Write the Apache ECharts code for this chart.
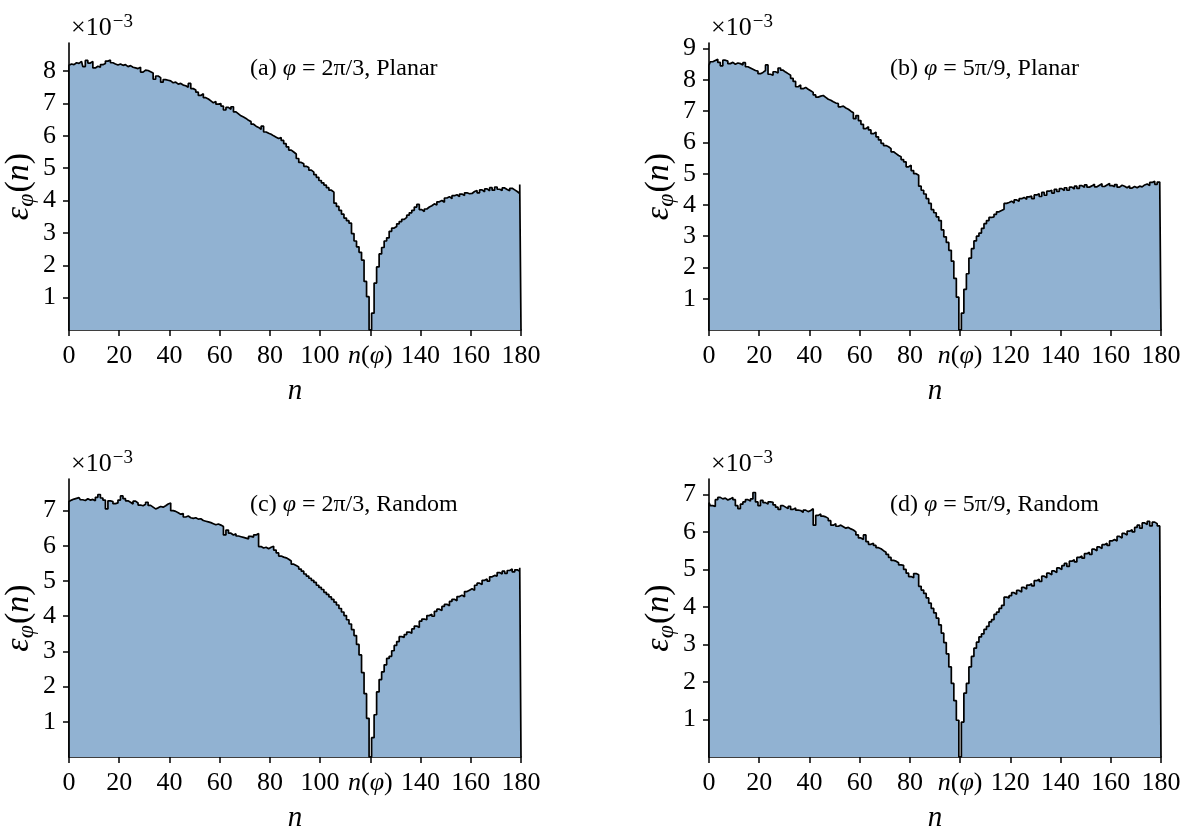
<!DOCTYPE html>
<html>
<head>
<meta charset="utf-8">
<script src="https://cdn.jsdelivr.net/npm/echarts@6/dist/echarts.min.js"></script>
<style>
  html, body { margin: 0; padding: 0; background: #fff; }
  #chart { width: 1185px; height: 834px; }
</style>
</head>
<body>
<div id="chart"></div>
<script>
// Bin-resolved error density eps_phi(n) in units of 1e-3, one value per n = 0..180
const epsPlanar2pi3 = [
  8.18, 8.22, 8.20, 8.26, 8.24, 8.30, 8.14, 8.33, 8.25, 8.30,
  8.10, 8.15, 8.12, 8.20, 8.24, 8.31, 8.34, 8.26, 8.22, 8.19,
  8.22, 8.18, 8.20, 8.14, 8.17, 8.12, 8.10, 8.08, 8.12, 7.97,
  8.03, 8.02, 7.98, 7.94, 7.75, 7.85, 7.80, 7.66, 7.74, 7.72,
  7.70, 7.64, 7.66, 7.60, 7.62, 7.57, 7.55, 7.50, 7.62, 7.46,
  7.42, 7.35, 7.25, 7.30, 7.18, 7.14, 7.08, 7.02, 7.06, 6.98,
  7.00, 6.92, 6.80, 6.88, 6.82, 6.90, 6.74, 6.68, 6.62, 6.58,
  6.54, 6.48, 6.44, 6.36, 6.30, 6.26, 6.20, 6.30, 6.12, 6.08,
  6.05, 6.00, 5.96, 5.92, 5.95, 5.86, 5.76, 5.66, 5.56, 5.50,
  5.44, 5.30, 5.18, 5.14, 5.06, 5.02, 4.94, 4.88, 4.80, 4.72,
  4.62, 4.55, 4.48, 4.40, 4.32, 4.26, 3.92, 3.82, 3.70, 3.58,
  3.46, 3.38, 3.30, 2.98, 2.75, 2.57, 2.40, 2.16, 1.50, 1.03,
  0.00, 0.52, 1.45, 1.95, 2.35, 2.55, 2.75, 2.85, 3.05, 3.15,
  3.20, 3.28, 3.35, 3.42, 3.48, 3.55, 3.62, 3.70, 3.80, 3.88,
  3.72, 3.66, 3.74, 3.80, 3.84, 3.90, 3.86, 3.96, 4.00, 3.95,
  4.08, 4.12, 4.06, 4.15, 4.18, 4.12, 4.20, 4.16, 4.24, 4.21,
  4.22, 4.28, 4.31, 4.24, 4.33, 4.27, 4.36, 4.30, 4.40, 4.32,
  4.42, 4.35, 4.31, 4.39, 4.34, 4.30, 4.38, 4.33, 4.28, 4.22,
  4.50
];
const epsPlanar5pi9 = [
  8.47, 8.58, 8.62, 8.66, 8.56, 8.45, 8.63, 8.60, 8.52, 8.56,
  8.50, 8.54, 8.52, 8.48, 8.55, 8.42, 8.38, 8.34, 8.30, 8.28,
  8.20, 8.24, 8.30, 8.48, 8.18, 8.15, 8.26, 8.22, 8.38, 8.31,
  8.25, 8.20, 8.15, 8.05, 7.95, 7.78, 7.84, 7.72, 7.76, 7.70,
  7.65, 7.60, 7.52, 7.45, 7.48, 7.50, 7.44, 7.38, 7.35, 7.30,
  7.26, 7.24, 7.14, 7.16, 7.10, 7.06, 7.00, 6.95, 6.76, 6.86,
  6.70, 6.58, 6.44, 6.50, 6.40, 6.28, 6.33, 6.18, 6.08, 5.97,
  5.90, 5.86, 5.80, 5.70, 5.64, 5.58, 5.54, 5.45, 5.38, 5.22,
  5.27, 5.10, 5.00, 4.95, 4.60, 4.47, 4.35, 4.20, 4.05, 3.85,
  3.75, 3.62, 3.50, 3.20, 2.98, 2.80, 2.55, 2.20, 1.65, 1.05,
  0.00, 0.54, 1.30, 1.80, 2.30, 2.60, 2.85, 3.00, 3.10, 3.25,
  3.40, 3.50, 3.60, 3.62, 3.70, 3.78, 3.82, 3.86, 4.05, 4.08,
  4.12, 4.06, 4.16, 4.12, 4.20, 4.24, 4.18, 4.26, 4.28, 4.20,
  4.32, 4.36, 4.27, 4.40, 4.31, 4.44, 4.47, 4.38, 4.50, 4.43,
  4.52, 4.46, 4.55, 4.47, 4.57, 4.51, 4.60, 4.53, 4.62, 4.56,
  4.64, 4.57, 4.61, 4.66, 4.58, 4.63, 4.68, 4.59, 4.64, 4.69,
  4.62, 4.58, 4.65, 4.57, 4.63, 4.60, 4.55, 4.61, 4.54, 4.59,
  4.55, 4.60, 4.58, 4.64, 4.67, 4.62, 4.72, 4.76, 4.66, 4.73,
  4.70
];
const epsRandom2pi3 = [
  7.26, 7.30, 7.33, 7.35, 7.37, 7.31, 7.29, 7.34, 7.30, 7.32,
  7.28, 7.38, 7.46, 7.36, 7.30, 7.05, 7.28, 7.26, 7.20, 7.22,
  7.30, 7.42, 7.34, 7.28, 7.24, 7.19, 7.27, 7.22, 7.16, 7.14,
  7.18, 7.24, 7.15, 7.10, 7.05, 7.08, 7.12, 7.10, 7.14, 7.19,
  7.22, 7.00, 6.98, 6.94, 6.90, 6.92, 6.82, 6.85, 6.80, 6.78,
  6.80, 6.76, 6.77, 6.72, 6.70, 6.68, 6.66, 6.63, 6.60, 6.62,
  6.59, 6.55, 6.31, 6.45, 6.36, 6.31, 6.34, 6.28, 6.26, 6.24,
  6.22, 6.20, 6.27, 6.25, 6.31, 6.35, 5.98, 5.94, 5.96, 5.92,
  5.96, 5.99, 5.88, 5.80, 5.71, 5.68, 5.66, 5.62, 5.57, 5.48,
  5.44, 5.40, 5.34, 5.28, 5.20, 5.14, 5.08, 5.02, 4.96, 4.88,
  4.82, 4.76, 4.68, 4.62, 4.55, 4.48, 4.40, 4.32, 4.22, 4.12,
  4.02, 3.90, 3.78, 3.62, 3.45, 3.20, 2.90, 2.40, 1.80, 1.10,
  0.00, 0.55, 1.20, 1.85, 2.20, 2.42, 2.62, 2.80, 2.86, 3.02,
  3.17, 3.28, 3.42, 3.40, 3.48, 3.55, 3.52, 3.64, 3.72, 3.68,
  3.86, 3.92, 3.90, 4.02, 4.06, 4.00, 4.14, 4.20, 4.16, 4.28,
  4.34, 4.30, 4.42, 4.48, 4.44, 4.56, 4.60, 4.55, 4.70, 4.74,
  4.78, 4.74, 4.88, 4.94, 4.90, 5.02, 5.06, 5.00, 5.12, 5.16,
  5.14, 5.24, 5.20, 5.28, 5.22, 5.30, 5.34, 5.26, 5.32, 5.28,
  5.38
];
const epsRandom5pi9 = [
  6.78, 6.70, 6.68, 6.86, 6.92, 6.88, 6.90, 6.85, 6.88, 6.92,
  6.86, 6.70, 6.62, 6.74, 6.80, 6.86, 6.82, 6.88, 7.05, 6.80,
  6.70, 6.84, 6.78, 6.74, 6.80, 6.79, 6.72, 6.66, 6.60, 6.70,
  6.66, 6.62, 6.68, 6.60, 6.64, 6.58, 6.57, 6.52, 6.58, 6.54,
  6.57, 6.62, 6.18, 6.44, 6.48, 6.42, 6.40, 6.36, 6.30, 6.18,
  6.22, 6.15, 6.18, 6.14, 6.10, 6.12, 6.08, 6.05, 6.00, 5.92,
  5.84, 5.80, 5.92, 5.74, 5.67, 5.70, 5.64, 5.58, 5.55, 5.50,
  5.46, 5.40, 5.32, 5.24, 5.22, 5.18, 5.12, 5.11, 5.00, 4.90,
  4.81, 4.78, 4.89, 4.86, 4.55, 4.45, 4.36, 4.24, 4.10, 3.96,
  3.84, 3.70, 3.52, 3.30, 3.05, 2.75, 2.40, 1.96, 1.50, 0.98,
  0.00, 0.93, 1.70, 1.96, 2.40, 2.68, 2.90, 3.06, 3.20, 3.28,
  3.40, 3.48, 3.60, 3.66, 3.80, 3.86, 3.96, 4.04, 4.26, 4.24,
  4.30, 4.38, 4.34, 4.44, 4.40, 4.52, 4.48, 4.58, 4.62, 4.56,
  4.70, 4.74, 4.68, 4.82, 4.78, 4.90, 4.86, 4.96, 4.92, 5.04,
  5.00, 5.10, 5.16, 5.08, 5.22, 5.26, 5.20, 5.32, 5.36, 5.30,
  5.42, 5.46, 5.40, 5.54, 5.50, 5.60, 5.56, 5.66, 5.70, 5.64,
  5.76, 5.80, 5.76, 5.88, 5.84, 5.96, 5.92, 6.02, 6.06, 6.00,
  6.12, 6.18, 6.10, 6.24, 6.20, 6.28, 6.16, 6.26, 6.22, 6.16,
  6.14
];

// Tick positions
const xTicks = [0, 20, 40, 60, 80, 100, 120, 140, 160, 180];
const yTicksA = [1, 2, 3, 4, 5, 6, 7, 8];
const yTicksB = [1, 2, 3, 4, 5, 6, 7, 8, 9];
const yTicksC = [1, 2, 3, 4, 5, 6, 7];
const yTicksD = [1, 2, 3, 4, 5, 6, 7];

// Critical bin n(phi) for each angle
const nPhiA = 120, nPhiB = 100, nPhiC = 120, nPhiD = 100;

const panelTitles = [
  '(a) {i|φ} = 2π/3, Planar',
  '(b) {i|φ} = 5π/9, Planar',
  '(c) {i|φ} = 2π/3, Random',
  '(d) {i|φ} = 5π/9, Random'
];

const SERIF = '"Liberation Serif", "DejaVu Serif", serif';
const FS = 26;        // tick labels
const FS_TITLE = 24;  // panel captions
const FS_XNAME = 29;  // x axis name
const FS_YNAME = 34;  // y axis name

const panels = [
  { data: epsPlanar2pi3, yTicks: yTicksA, yMax: 8.87, nPhi: nPhiA, left: 69,  top: 43,  title: panelTitles[0] },
  { data: epsPlanar5pi9, yTicks: yTicksB, yMax: 9.18, nPhi: nPhiB, left: 709, top: 43,  title: panelTitles[1] },
  { data: epsRandom2pi3, yTicks: yTicksC, yMax: 7.90, nPhi: nPhiC, left: 69,  top: 479, title: panelTitles[2] },
  { data: epsRandom5pi9, yTicks: yTicksD, yMax: 7.41, nPhi: nPhiD, left: 709, top: 479, title: panelTitles[3] }
];

const GW = 452, GH = 287;
const it = size => ({ fontStyle: 'italic', fontFamily: SERIF, fontSize: size, color: '#000' });

const grid = [], xAxis = [], yAxis = [], series = [], title = [], graphic = [];

panels.forEach((p, k) => {
  grid.push({ left: p.left, top: p.top, width: GW, height: GH, containLabel: false });

  xAxis.push({
    type: 'value', gridIndex: k, min: 0, max: 180,
    name: '{i|n}', nameLocation: 'middle', nameGap: 47,
    nameTextStyle: { fontFamily: SERIF, fontSize: FS_XNAME, color: '#000', rich: { i: it(FS_XNAME) } },
    axisLine: { show: true, onZero: false, lineStyle: { color: '#000', width: 1.6 } },
    axisTick: { show: true, inside: false, length: 6, customValues: xTicks, lineStyle: { color: '#000', width: 1.5 } },
    axisLabel: {
      customValues: xTicks, margin: 13, color: '#000', fontFamily: SERIF, fontSize: FS,
      formatter: v => (v === p.nPhi ? '{i|n}({i|φ})' : String(v)),
      rich: { i: it(FS) }
    },
    splitLine: { show: false }
  });

  yAxis.push({
    type: 'value', gridIndex: k, min: 0, max: p.yMax,
    name: '{i|ε}{s|φ}({i|n})', nameLocation: 'middle', nameRotate: 90, nameGap: 26,
    nameTextStyle: {
      fontFamily: SERIF, fontSize: FS_YNAME, color: '#000',
      rich: { i: it(FS_YNAME), s: Object.assign(it(24), { verticalAlign: 'bottom', padding: [16, 1, 0, 0] }) }
    },
    axisLine: { show: true, onZero: false, lineStyle: { color: '#000', width: 1.6 } },
    axisTick: { show: true, inside: false, length: 6, customValues: p.yTicks, lineStyle: { color: '#000', width: 1.5 } },
    axisLabel: { customValues: p.yTicks, margin: 13, color: '#000', fontFamily: SERIF, fontSize: FS },
    splitLine: { show: false }
  });

  // Step outline and fill of the histogram, closed down to zero at both ends
  const pts = [[0, 0]].concat(p.data.map((v, i) => [i, v]), [[180, 0]]);
  series.push({
    type: 'line', xAxisIndex: k, yAxisIndex: k, step: 'middle',
    data: pts, showSymbol: false, symbol: 'none', silent: true,
    lineStyle: { color: '#000', width: 1.7 },
    areaStyle: { color: '#91b2d2', opacity: 1, origin: 0 },
    z: 2
  });

  title.push({
    text: p.title,
    left: p.left + 176, top: p.top + 9,
    textStyle: { fontFamily: SERIF, fontSize: FS_TITLE, fontWeight: 'normal', color: '#000', rich: { i: it(FS_TITLE) } }
  });

  graphic.push({
    type: 'text', left: p.left + 2, top: p.top - 30,
    style: {
      text: '×10{sup|−3}',
      font: `${FS}px ${SERIF}`, fill: '#000',
      rich: { sup: { fontFamily: SERIF, fontSize: 19, fill: '#000', verticalAlign: 'top', padding: [0, 0, 11, 1] } }
    }
  });
});

const chart = echarts.init(document.getElementById('chart'), null, { renderer: 'canvas' });
chart.setOption({
  animation: false,
  backgroundColor: '#fff',
  grid, xAxis, yAxis, series, title, graphic
});
</script>
</body>
</html>
